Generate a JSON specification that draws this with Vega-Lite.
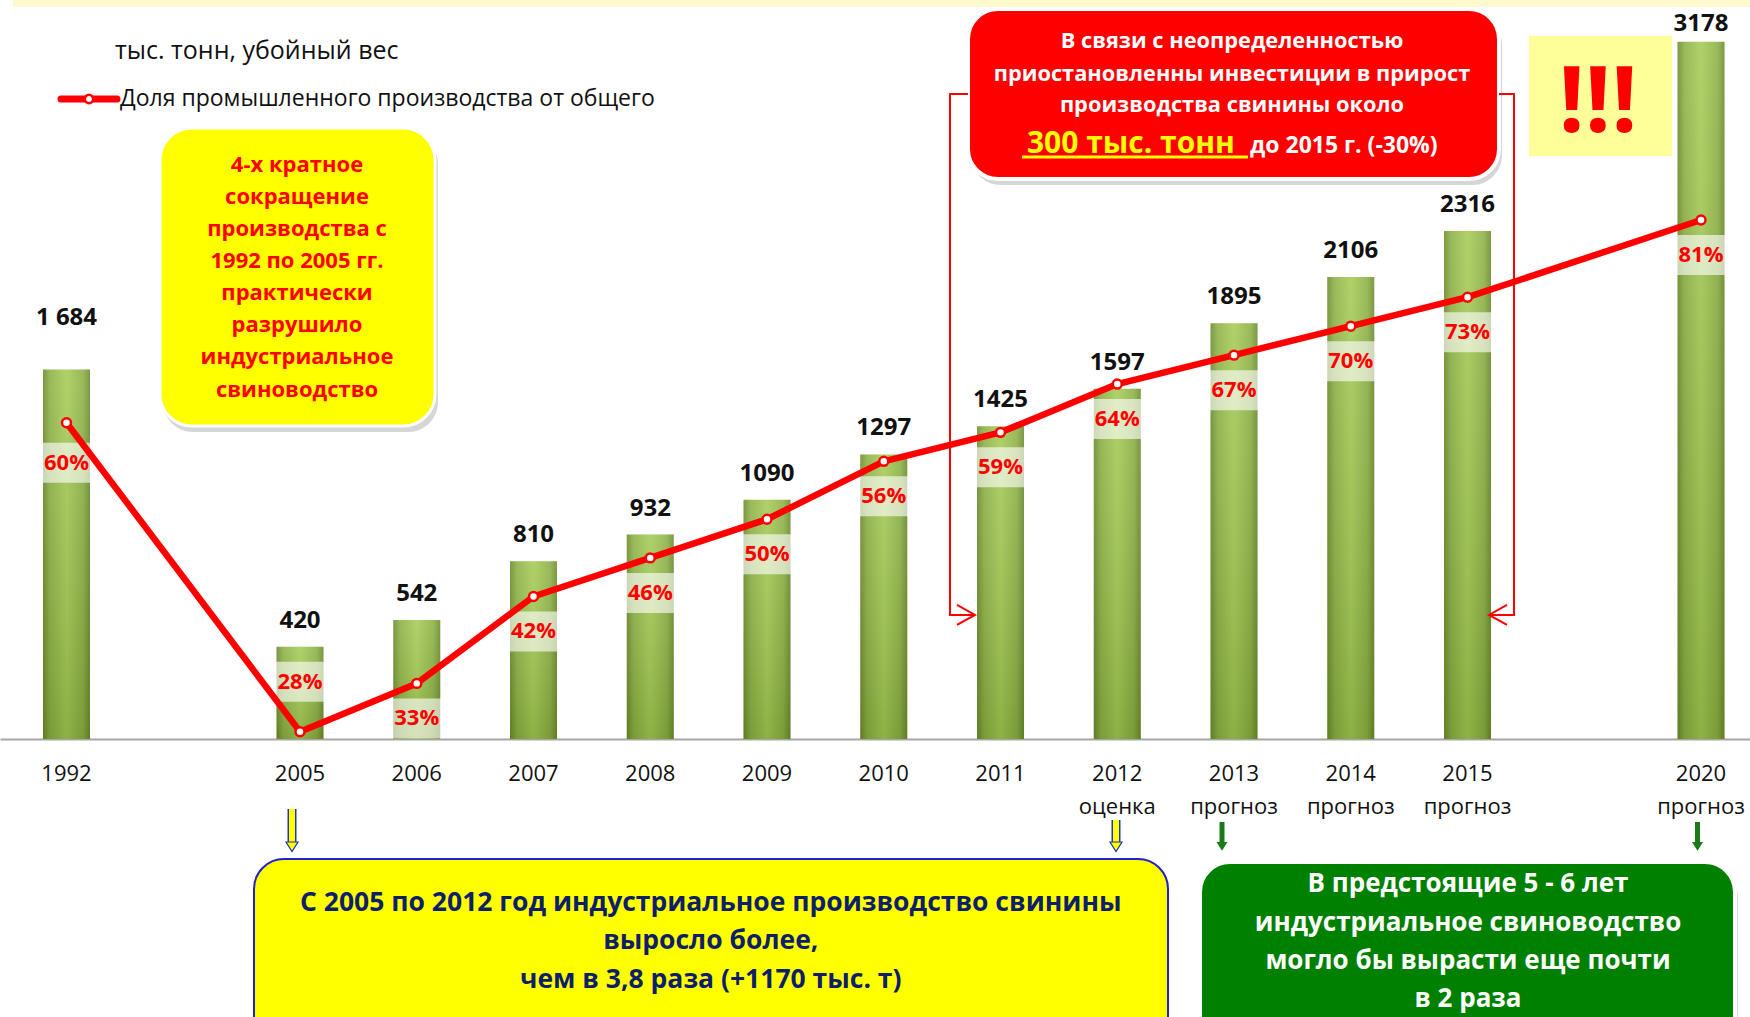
{
  "$schema": "https://vega.github.io/schema/vega-lite/v6.json",
  "width": 1750,
  "height": 724,
  "autosize": {"type": "none"},
  "padding": {"left": 0, "top": 15, "right": 0, "bottom": 278},
  "background": "white",
  "config": {"view": {"stroke": null}, "font": "Open Sans"},
  "datasets": {
    "prod": [
      {"year": 1992, "period": "1992", "value": 1684, "label": "1 684", "share": 0.60},
      {"year": 2005, "period": "2005", "value": 420, "label": "420", "share": 0.28},
      {"year": 2006, "period": "2006", "value": 542, "label": "542", "share": 0.33},
      {"year": 2007, "period": "2007", "value": 810, "label": "810", "share": 0.42},
      {"year": 2008, "period": "2008", "value": 932, "label": "932", "share": 0.46},
      {"year": 2009, "period": "2009", "value": 1090, "label": "1090", "share": 0.50},
      {"year": 2010, "period": "2010", "value": 1297, "label": "1297", "share": 0.56},
      {"year": 2011, "period": "2011", "value": 1425, "label": "1425", "share": 0.59},
      {"year": 2012, "period": "2012 оценка", "value": 1597, "label": "1597", "share": 0.64},
      {"year": 2013, "period": "2013 прогноз", "value": 1895, "label": "1895", "share": 0.67},
      {"year": 2014, "period": "2014 прогноз", "value": 2106, "label": "2106", "share": 0.70},
      {"year": 2015, "period": "2015 прогноз", "value": 2316, "label": "2316", "share": 0.73},
      {"year": 2020, "period": "2020 прогноз", "value": 3178, "label": "3178", "share": 0.81}
    ],
    "boxes": [
      {"name": "stripe", "ax": -0.458, "ax2": 14.42, "ay": 3368, "ay2": 3336.5},
      {"name": "left", "ax": 0.8009, "ax2": 3.1563, "ay": 2784.9, "ay2": 1426.7},
      {"name": "red", "ax": 7.7216, "ax2": 12.2698, "ay": 3327.3, "ay2": 2552.5},
      {"name": "excl", "ax": 12.5268, "ax2": 13.7516, "ay": 3204.3, "ay2": 2657.3},
      {"name": "summary", "ax": 1.606, "ax2": 9.4347, "ay": -547.0, "ay2": -1420},
      {"name": "outlook", "ax": 9.7088, "ax2": 14.2912, "ay": -560.6, "ay2": -1420}
    ],
    "notes": [
      {"box": "title", "t": "тыс. тонн, убойный вес", "ax": 0.4154, "ay": 3135.9},
      {"box": "head", "t": "Доля промышленного производства от общего", "ax": 0.4582, "ay": 2917.1},
      {"box": "left", "t": "4-х кратное", "ax": 1.9743, "ay": 2615},
      {"box": "left", "t": "сокращение", "ax": 1.9743, "ay": 2469},
      {"box": "left", "t": "производства  с", "ax": 1.9743, "ay": 2323},
      {"box": "left", "t": "1992 по 2005 гг.", "ax": 1.9743, "ay": 2177},
      {"box": "left", "t": "практически", "ax": 1.9743, "ay": 2031},
      {"box": "left", "t": "разрушило", "ax": 1.9743, "ay": 1885},
      {"box": "left", "t": "индустриальное", "ax": 1.9743, "ay": 1739},
      {"box": "left", "t": "свиноводство", "ax": 1.9743, "ay": 1593},
      {"box": "red", "t": "В связи с неопределенностью", "ax": 9.9829, "ay": 3180},
      {"box": "red", "t": "приостановленны инвестиции в прирост", "ax": 9.9829, "ay": 3032},
      {"box": "red", "t": "производства свинины около", "ax": 9.9829, "ay": 2890},
      {"box": "redbig", "t": "300 тыс. тонн", "ax": 8.2266, "ay": 2671},
      {"box": "redtail", "t": "до 2015 г. (-30%)", "ax": 10.137, "ay": 2671},
      {"box": "excl", "t": "!!!", "ax": 13.118, "ay": 2894.3},
      {"box": "summary", "t": "С 2005 по 2012 год индустриальное производство свинины", "ax": 5.5182, "ay": -747.5},
      {"box": "summary", "t": "выросло более,", "ax": 5.5182, "ay": -920.7},
      {"box": "summary", "t": "чем в 3,8 раза (+1170 тыс. т)", "ax": 5.5182, "ay": -1098.5},
      {"box": "outlook", "t": "В предстоящие 5 - 6 лет", "ax": 12.0043, "ay": -660.9},
      {"box": "outlook", "t": "индустриальное свиноводство", "ax": 12.0043, "ay": -838.7},
      {"box": "outlook", "t": "могло бы вырасти еще почти", "ax": 12.0043, "ay": -1011.9},
      {"box": "outlook", "t": "в 2 раза", "ax": 12.0043, "ay": -1185.1}
    ],
    "segments": [
      {"kind": "underline", "ax": 8.184, "ax2": 10.12, "ay": 2652.8},
      {"kind": "legend", "ax": -0.0471, "ax2": 0.4325, "ay": 2917.1}
    ],
    "legendmarker": [{"ax": 0.1927, "ay": 2917.1}],
    "bracket": [
      {"side": "L", "ord": 1, "ax": 7.7216, "ay": 2939.9},
      {"side": "L", "ord": 2, "ax": 7.5675, "ay": 2939.9},
      {"side": "L", "ord": 3, "ax": 7.5675, "ay": 565.2},
      {"side": "L", "ord": 4, "ax": 7.7816, "ay": 565.2},
      {"side": "R", "ord": 1, "ax": 12.2698, "ay": 2939.9},
      {"side": "R", "ord": 2, "ax": 12.3983, "ay": 2939.9},
      {"side": "R", "ord": 3, "ax": 12.3983, "ay": 565.2},
      {"side": "R", "ord": 4, "ax": 12.1842, "ay": 565.2}
    ],
    "chevrons": [
      {"side": "L", "ax": 7.7045, "ay": 565.2},
      {"side": "R", "ax": 12.2612, "ay": 565.2}
    ],
    "arrows": [
      {"kind": "yellow", "ax": 1.9315, "top": -319.1, "end": -469.5},
      {"kind": "yellow", "ax": 8.9893, "top": -369.2, "end": -469.5},
      {"kind": "green", "ax": 9.8972, "top": -378.3, "end": -469.5},
      {"kind": "green", "ax": 13.97, "top": -378.3, "end": -469.5}
    ]
  },
  "resolve": {"scale": {"x": "independent", "y": "independent"}, "axis": {"x": "independent", "y": "independent"}},
  "layer": [
    {
      "data": {"name": "prod"},
      "encoding": {
        "x": {
          "field": "period", "type": "nominal", "sort": null,
          "scale": {"type": "band", "domain": ["1992", "_a", "2005", "2006", "2007", "2008", "2009", "2010", "2011", "2012 оценка", "2013 прогноз", "2014 прогноз", "2015 прогноз", "_b", "2020 прогноз"], "paddingInner": 0.5974, "paddingOuter": 0.2932, "align": 0.628},
          "axis": {"title": null, "ticks": false, "domainColor": "#A6A6A6", "domainWidth": 2, "labelFont": "Open Sans", "labelFontSize": 22, "labelColor": "#111111", "labelPadding": 24, "labelLineHeight": 33, "labelOverlap": false, "labelBound": false, "labelFlush": false, "labelAngle": 0, "labelExpr": "indexof(datum.value, '_') === 0 ? '' : split(datum.value, ' ')"}
        },
        "y": {"field": "value", "type": "quantitative", "scale": {"domain": [0, 3300], "nice": false}, "axis": null}
      },
      "layer": [
        {"mark": {"type": "bar", "color": {"gradient": "linear", "x1": 0, "y1": 0, "x2": 1, "y2": 0, "stops": [{"offset": 0, "color": "#6B8A2C"}, {"offset": 0.15, "color": "#8CB044"}, {"offset": 0.5, "color": "#A5CB55"}, {"offset": 0.85, "color": "#8CB044"}, {"offset": 1, "color": "#6B8A2C"}]}}},
        {"mark": {"type": "bar", "color": {"gradient": "linear", "x1": 0, "y1": 0, "x2": 0, "y2": 1, "stops": [{"offset": 0, "color": "rgba(255,255,255,0.12)"}, {"offset": 1, "color": "rgba(40,60,0,0.18)"}]}}},
        {"mark": {"type": "text", "font": "Open Sans", "fontWeight": "bold", "fontSize": 24, "color": "#111111", "baseline": "middle", "dy": {"expr": "datum.year === 1992 ? -52 : datum.year === 2020 ? -18 : -26"}}, "encoding": {"text": {"field": "label"}}}
      ]
    },
    {
      "data": {"name": "prod"},
      "encoding": {
        "x": {"field": "period", "type": "nominal", "sort": null, "scale": {"type": "band", "domain": ["1992", "_a", "2005", "2006", "2007", "2008", "2009", "2010", "2011", "2012 оценка", "2013 прогноз", "2014 прогноз", "2015 прогноз", "_b", "2020 прогноз"], "paddingInner": 0.5974, "paddingOuter": 0.2932, "align": 0.628}, "axis": null},
        "y": {"field": "share", "type": "quantitative", "scale": {"domain": [0.2724, 1.0223], "nice": false, "zero": false}, "axis": null}
      },
      "layer": [
        {"mark": {"type": "point", "filled": true, "fill": "white", "fillOpacity": 0.62, "strokeWidth": 0, "size": 1600},
         "encoding": {"shape": {"condition": [{"test": "datum.year === 1992", "value": "M-1.225,1.0H1.225V3.0H-1.225Z"}, {"test": "datum.year === 2005", "value": "M-1.225,-3.5H1.225V-1.5H-1.225Z"}], "value": "M-1.225,0.75H1.225V2.75H-1.225Z"}}},
        {"mark": {"type": "line", "color": "#FF0000", "strokeWidth": 6.5, "strokeCap": "round", "strokeJoin": "round"}},
        {"mark": {"type": "point", "filled": true, "fill": "white", "stroke": "#FF0000", "strokeWidth": 2.5, "size": 80, "opacity": 1}},
        {"mark": {"type": "text", "font": "Open Sans", "fontWeight": "bold", "fontSize": 22, "color": "#FF0000", "baseline": "middle", "dy": {"expr": "datum.year === 1992 ? 40 : datum.year === 2005 ? -50 : 35"}},
         "encoding": {"text": {"field": "share", "type": "quantitative", "format": ".0%"}}}
      ]
    },
    {
      "encoding": {
        "x": {"field": "ax", "type": "quantitative", "scale": {"domain": [-0.5696, 14.4197], "nice": false, "zero": false}, "axis": null},
        "y": {"field": "ay", "type": "quantitative", "scale": {"domain": [0, 3300], "nice": false, "zero": false}, "axis": null}
      },
      "layer": [
        {"data": {"name": "boxes"}, "transform": [{"filter": "datum.name === 'stripe'"}],
         "mark": {"type": "rect", "fill": "#FFFBCF"}, "encoding": {"x2": {"field": "ax2"}, "y2": {"field": "ay2"}}},
        {"data": {"name": "boxes"}, "transform": [{"filter": "datum.name === 'left' || datum.name === 'red' || datum.name === 'outlook'"}],
         "mark": {"type": "rect", "fill": "#000000", "opacity": 0.16, "cornerRadius": 30, "xOffset": 3, "x2Offset": 3, "yOffset": 6, "y2Offset": 6}, "encoding": {"x2": {"field": "ax2"}, "y2": {"field": "ay2"}}},
        {"data": {"name": "boxes"}, "transform": [{"filter": "datum.name === 'left'"}],
         "mark": {"type": "rect", "fill": "#FFFF00", "stroke": "#FFFFFF", "strokeWidth": 3, "cornerRadius": 32}, "encoding": {"x2": {"field": "ax2"}, "y2": {"field": "ay2"}}},
        {"data": {"name": "boxes"}, "transform": [{"filter": "datum.name === 'red'"}],
         "mark": {"type": "rect", "fill": "#FF0000", "stroke": "#FFFFFF", "strokeWidth": 4, "cornerRadius": 30}, "encoding": {"x2": {"field": "ax2"}, "y2": {"field": "ay2"}}},
        {"data": {"name": "boxes"}, "transform": [{"filter": "datum.name === 'excl'"}],
         "mark": {"type": "rect", "fill": "#FFFF99"}, "encoding": {"x2": {"field": "ax2"}, "y2": {"field": "ay2"}}},
        {"data": {"name": "boxes"}, "transform": [{"filter": "datum.name === 'summary'"}],
         "mark": {"type": "rect", "fill": "#FFFF00", "stroke": "#2222CC", "strokeWidth": 2, "cornerRadius": 30}, "encoding": {"x2": {"field": "ax2"}, "y2": {"field": "ay2"}}},
        {"data": {"name": "boxes"}, "transform": [{"filter": "datum.name === 'outlook'"}],
         "mark": {"type": "rect", "fill": "#008000", "stroke": "#FFFFFF", "strokeWidth": 4, "cornerRadius": 30}, "encoding": {"x2": {"field": "ax2"}, "y2": {"field": "ay2"}}},
        {"data": {"name": "bracket"},
         "mark": {"type": "line", "color": "#FF0000", "strokeWidth": 2},
         "encoding": {"detail": {"field": "side"}, "order": {"field": "ord"}}},
        {"data": {"name": "chevrons"},
         "mark": {"type": "point", "filled": false, "stroke": "#FF0000", "strokeWidth": 2, "size": 400, "opacity": 1},
         "encoding": {"shape": {"condition": {"test": "datum.side === 'L'", "value": "M-0.9,-1L0.9,0L-0.9,1"}, "value": "M0.9,-1L-0.9,0L0.9,1"}}},
        {"data": {"name": "segments"}, "transform": [{"filter": "datum.kind === 'legend'"}],
         "mark": {"type": "rule", "color": "#FF0000", "strokeWidth": 7, "strokeCap": "round"}, "encoding": {"x2": {"field": "ax2"}}},
        {"data": {"name": "segments"}, "transform": [{"filter": "datum.kind === 'underline'"}],
         "mark": {"type": "rule", "color": "#FFFF00", "strokeWidth": 3}, "encoding": {"x2": {"field": "ax2"}}},
        {"data": {"name": "legendmarker"},
         "mark": {"type": "point", "filled": true, "fill": "white", "stroke": "#FF0000", "strokeWidth": 2.5, "size": 70, "opacity": 1}},
        {"data": {"name": "arrows"}, "transform": [{"filter": "datum.kind === 'yellow'"}],
         "mark": {"type": "rule", "color": "#2233BB", "strokeWidth": 9},
         "encoding": {"y": {"field": "top", "type": "quantitative", "scale": {"domain": [0, 3300], "nice": false, "zero": false}, "axis": null}, "y2": {"field": "end"}}},
        {"data": {"name": "arrows"}, "transform": [{"filter": "datum.kind === 'yellow'"}],
         "mark": {"type": "rule", "color": "#FFFF00", "strokeWidth": 6},
         "encoding": {"y": {"field": "top", "type": "quantitative", "scale": {"domain": [0, 3300], "nice": false, "zero": false}, "axis": null}, "y2": {"field": "end"}}},
        {"data": {"name": "arrows"}, "transform": [{"filter": "datum.kind === 'green'"}],
         "mark": {"type": "rule", "color": "#1A7A1A", "strokeWidth": 5},
         "encoding": {"y": {"field": "top", "type": "quantitative", "scale": {"domain": [0, 3300], "nice": false, "zero": false}, "axis": null}, "y2": {"field": "end"}}},
        {"data": {"name": "arrows"}, "transform": [{"filter": "datum.kind === 'yellow'"}],
         "mark": {"type": "point", "shape": "M-1,0L1,0L0,1.6Z", "filled": true, "fill": "#FFFF00", "stroke": "#2233BB", "strokeWidth": 1.2, "size": 144, "opacity": 1},
         "encoding": {"y": {"field": "end", "type": "quantitative", "scale": {"domain": [0, 3300], "nice": false, "zero": false}, "axis": null}}},
        {"data": {"name": "arrows"}, "transform": [{"filter": "datum.kind === 'green'"}],
         "mark": {"type": "point", "shape": "M-1,0L1,0L0,1.6Z", "filled": true, "fill": "#1A7A1A", "strokeWidth": 0, "size": 121, "opacity": 1},
         "encoding": {"y": {"field": "end", "type": "quantitative", "scale": {"domain": [0, 3300], "nice": false, "zero": false}, "axis": null}}},
        {"data": {"name": "notes"}, "transform": [{"filter": "datum.box === 'title'"}],
         "mark": {"type": "text", "font": "Open Sans", "fontSize": 25, "color": "#111111", "align": "left", "baseline": "middle"}, "encoding": {"text": {"field": "t"}}},
        {"data": {"name": "notes"}, "transform": [{"filter": "datum.box === 'head'"}],
         "mark": {"type": "text", "font": "Open Sans", "fontSize": 23, "color": "#111111", "align": "left", "baseline": "middle"}, "encoding": {"text": {"field": "t"}}},
        {"data": {"name": "notes"}, "transform": [{"filter": "datum.box === 'left'"}],
         "mark": {"type": "text", "font": "Open Sans", "fontWeight": "bold", "fontSize": 22, "color": "#FF0000", "align": "center", "baseline": "middle"}, "encoding": {"text": {"field": "t"}}},
        {"data": {"name": "notes"}, "transform": [{"filter": "datum.box === 'red'"}],
         "mark": {"type": "text", "font": "Open Sans", "fontWeight": "bold", "fontSize": 21.8, "color": "#FFFFFF", "align": "center", "baseline": "middle"}, "encoding": {"text": {"field": "t"}}},
        {"data": {"name": "notes"}, "transform": [{"filter": "datum.box === 'redbig'"}],
         "mark": {"type": "text", "font": "Open Sans", "fontWeight": "bold", "fontSize": 30, "color": "#FFFF00", "align": "left", "baseline": "alphabetic"}, "encoding": {"text": {"field": "t"}}},
        {"data": {"name": "notes"}, "transform": [{"filter": "datum.box === 'redtail'"}],
         "mark": {"type": "text", "font": "Open Sans", "fontWeight": "bold", "fontSize": 23, "color": "#FFFFFF", "align": "left", "baseline": "alphabetic"}, "encoding": {"text": {"field": "t"}}},
        {"data": {"name": "notes"}, "transform": [{"filter": "datum.box === 'excl'"}],
         "mark": {"type": "text", "font": "Open Sans", "fontWeight": "bold", "fontSize": 92, "color": "#FF0000", "align": "center", "baseline": "middle"}, "encoding": {"text": {"field": "t"}}},
        {"data": {"name": "notes"}, "transform": [{"filter": "datum.box === 'summary'"}],
         "mark": {"type": "text", "font": "Open Sans", "fontWeight": "bold", "fontSize": 26.5, "color": "#0D1F6B", "align": "center", "baseline": "middle"}, "encoding": {"text": {"field": "t"}}},
        {"data": {"name": "notes"}, "transform": [{"filter": "datum.box === 'outlook'"}],
         "mark": {"type": "text", "font": "Open Sans", "fontWeight": "bold", "fontSize": 26, "color": "#FFFFFF", "align": "center", "baseline": "middle"}, "encoding": {"text": {"field": "t"}}}
      ]
    }
  ]
}
